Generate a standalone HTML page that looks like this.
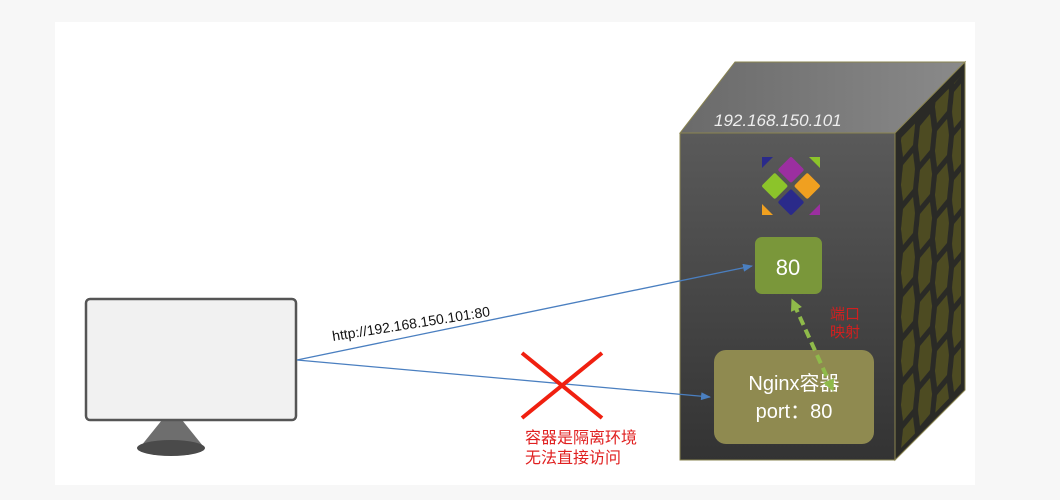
<!DOCTYPE html>
<html><head><meta charset="utf-8"><style>
html,body{margin:0;padding:0;background:#f7f7f7;width:1060px;height:500px;overflow:hidden}
</style></head><body>
<svg width="1060" height="500" xmlns="http://www.w3.org/2000/svg" style="position:absolute;left:0;top:0">
<defs>
<linearGradient id="front" x1="0" y1="0" x2="0" y2="1"><stop offset="0" stop-color="#5a5a5a"/><stop offset="1" stop-color="#333"/></linearGradient>
<linearGradient id="top" x1="0" y1="0" x2="1" y2="0"><stop offset="0" stop-color="#6a6a6a"/><stop offset="1" stop-color="#8a8a8a"/></linearGradient>
<clipPath id="side"><polygon points="899,140 961,76 961,386 899,450"/></clipPath>
<pattern id="hex" x="0" y="0" width="34" height="44" patternUnits="userSpaceOnUse" patternTransform="translate(900,120) skewY(-45)">
<path d="M3,4 L13,2 L15,20 L13,38 L3,40 L1,22 Z" fill="#4d4b22"/>
<path d="M20,26 L30,24 L32,42 L30,60 L20,62 L18,44 Z" fill="#4d4b22"/>
<path d="M20,-18 L30,-20 L32,-2 L30,16 L20,18 L18,0 Z" fill="#4d4b22"/>
</pattern>
<marker id="ab" markerWidth="10" markerHeight="8" refX="9" refY="4" orient="auto" markerUnits="userSpaceOnUse"><path d="M0,0 L10,4 L0,8 z" fill="#4a7fc0"/></marker>
<marker id="ag" markerWidth="12" markerHeight="12" refX="6" refY="6" orient="auto" markerUnits="userSpaceOnUse"><path d="M0,0 L12,6 L0,12 z" fill="#8fba4a"/></marker>
<marker id="ag2" markerWidth="12" markerHeight="12" refX="6" refY="6" orient="auto-start-reverse" markerUnits="userSpaceOnUse"><path d="M0,0 L12,6 L0,12 z" fill="#8fba4a"/></marker>
</defs>
<rect x="55" y="22" width="920" height="463" fill="#fff"/>
<!-- cube -->
<polygon points="680,133 735,62 965,62 895,133" fill="url(#top)" stroke="#8a8450"/>
<polygon points="895,133 965,62 965,390 895,460" fill="#2a2a26" stroke="#8a8450"/>
<rect x="880" y="50" width="100" height="420" fill="url(#hex)" clip-path="url(#side)"/>
<rect x="680" y="133" width="215" height="327" fill="url(#front)" stroke="#8a8450"/>
<text x="714" y="126" font-family="Liberation Sans,sans-serif" font-style="italic" font-size="17" fill="#eee">192.168.150.101</text>
<!-- icon -->
<g transform="translate(791,186) rotate(45)">
<rect x="-21" y="-21" width="19" height="19" rx="2" fill="#9b2fa0"/>
<rect x="2" y="-21" width="19" height="19" rx="2" fill="#f0a020"/>
<rect x="-21" y="2" width="19" height="19" rx="2" fill="#8cc42a"/>
<rect x="2" y="2" width="19" height="19" rx="2" fill="#2a2a8a"/>
</g>
<polygon points="762,157 773,157 762,168" fill="#2a2a8a"/><polygon points="809,157 820,157 820,168" fill="#8cc42a"/>
<polygon points="762,204 773,215 762,215" fill="#f0a020"/><polygon points="820,204 820,215 809,215" fill="#9b2fa0"/>
<!-- boxes -->
<rect x="755" y="237" width="67" height="57" rx="7" fill="#7a973a"/>
<text x="788" y="275" text-anchor="middle" font-family="Liberation Sans,sans-serif" font-size="22" fill="#fff">80</text>
<rect x="714" y="350" width="160" height="94" rx="12" fill="#8f8a50"/>
<text x="794" y="390" text-anchor="middle" font-family="Liberation Sans,'Noto Sans CJK SC',sans-serif" font-size="20" fill="#fff">Nginx容器</text>
<text x="794" y="418" text-anchor="middle" font-family="Liberation Sans,'Noto Sans CJK SC',sans-serif" font-size="20" fill="#fff">port：80</text>
<line x1="794" y1="304" x2="831" y2="386" stroke="#8fba4a" stroke-width="4" stroke-dasharray="9,5" marker-start="url(#ag2)" marker-end="url(#ag)"/>
<text x="830" y="319" font-family="'Noto Sans CJK SC',sans-serif" font-size="15" fill="#d02020">端口</text>
<text x="830" y="337" font-family="'Noto Sans CJK SC',sans-serif" font-size="15" fill="#d02020">映射</text>
<!-- monitor -->
<polygon points="162,420 182,420 203,446 141,446" fill="#6e6e6e"/>
<ellipse cx="171" cy="448" rx="34" ry="8" fill="#4a4a4a"/>
<rect x="86" y="299" width="210" height="121" rx="4" fill="#f1f1f1" stroke="#555" stroke-width="2.5"/>
<!-- lines -->
<line x1="297" y1="360" x2="752" y2="266" stroke="#4a7fc0" stroke-width="1.3" marker-end="url(#ab)"/>
<line x1="297" y1="360" x2="710" y2="397" stroke="#4a7fc0" stroke-width="1.3" marker-end="url(#ab)"/>
<text transform="translate(333,341) rotate(-9)" font-family="Liberation Sans,sans-serif" font-size="14" fill="#111">http://192.168.150.101:80</text>
<line x1="522" y1="353" x2="602" y2="418" stroke="#f02010" stroke-width="4"/>
<line x1="602" y1="353" x2="522" y2="418" stroke="#f02010" stroke-width="4"/>
<text x="525" y="443" font-family="'Noto Sans CJK SC',sans-serif" font-size="16" fill="#e02020">容器是隔离环境</text>
<text x="525" y="463" font-family="'Noto Sans CJK SC',sans-serif" font-size="16" fill="#e02020">无法直接访问</text>
</svg>
</body></html>
